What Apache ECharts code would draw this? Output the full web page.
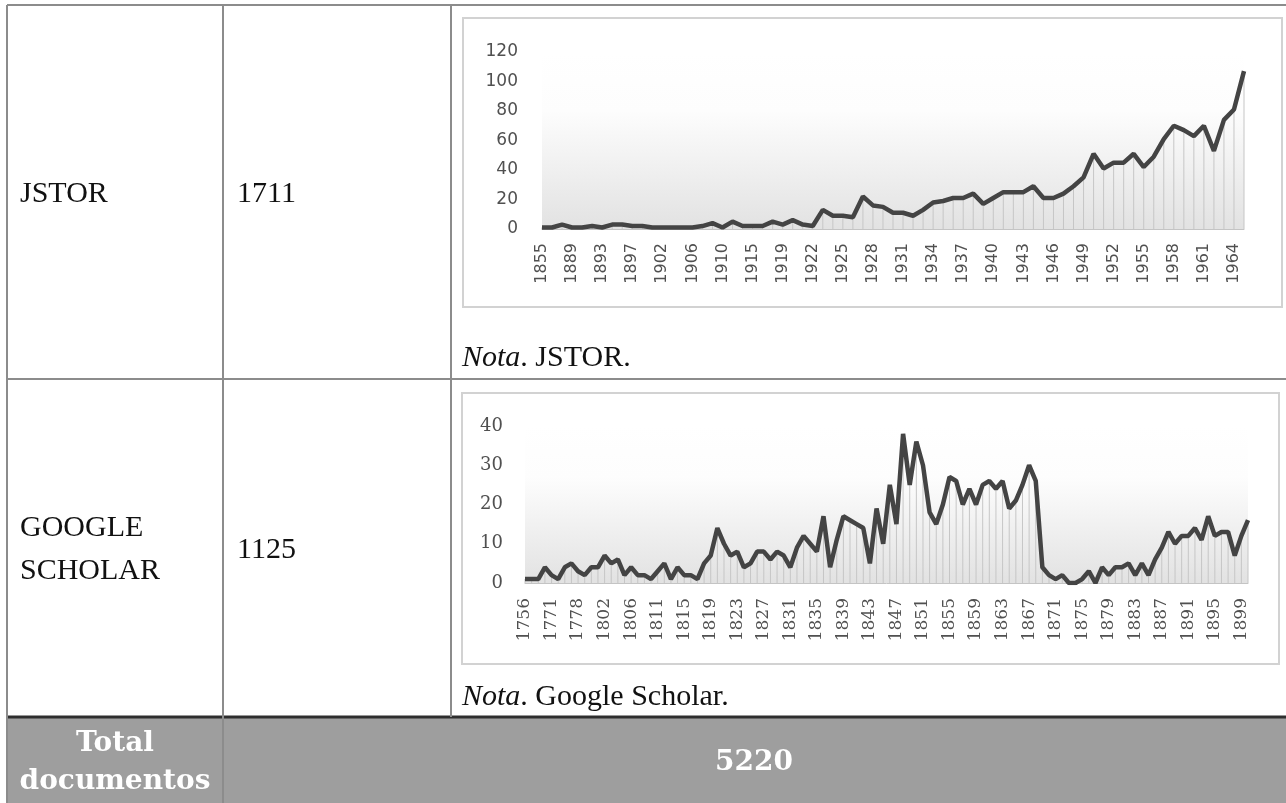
<html>
<head>
    <meta charset="UTF-8"/>
    <title>Documentos por base de datos</title>
    <script src="https://cdn.jsdelivr.net/npm/echarts@6/dist/echarts.min.js"></script>
    <style>
        html, body { margin: 0; padding: 0; background: #fff; }
    </style>
</head>
<body>
<div id="main" style="width:1286px;height:803px;"></div>

<script>
// JSTOR: años y documentos por año
var jstorYears = ['1855','1865','1880','1889','1890','1891','1893','1894','1895','1897','1898','1900',
    '1902','1903','1904','1906','1907','1908','1910','1912','1913','1915','1916','1917','1919','1920','1921',
    '1922','1923','1924','1925','1926','1927','1928','1929','1930','1931','1932','1933','1934','1935','1936',
    '1937','1938','1939','1940','1941','1942','1943','1944','1945','1946','1947','1948','1949','1950','1951',
    '1952','1953','1954','1955','1956','1957','1958','1959','1960','1961','1962','1963','1964','1965'];
var jstorDocs = [1,1,3,1,1,2,1,3,3,2,2,1,1,1,1,1,2,4,1,5,2,2,2,5,3,6,3,2,13,9,9,8,22,16,15,11,11,9,13,18,19,21,
    21,24,17,21,25,25,25,29,21,21,24,29,35,51,41,45,45,51,42,49,61,70,67,63,70,53,74,81,107];

// Google Scholar
var gsYears = ['1756','1760','1765','1769','1771','1773','1775','1776','1778','1780','1790','1800','1802','1803',
    '1804','1805','1806','1807','1808','1810','1811','1812','1813','1814','1815','1816','1817','1818'];
for (var y = 1819; y <= 1900; y++) gsYears.push(String(y));
var gsDocs = [1,1,1,4,2,1,4,5,3,2,4,4,7,5,6,2,4,2,2,1,3,5,1,4,2,2,1,5,7,14,10,7,8,4,5,8,8,6,8,7,4,9,12,10,8,17,
    4,11,17,16,15,14,5,19,10,25,15,38,25,36,30,18,15,20,27,26,20,24,20,25,26,24,26,19,21,25,30,26,4,2,1,2,0,0,1,3,
    0,4,2,4,4,5,2,5,2,6,9,13,10,12,12,14,11,17,12,13,13,7,12,16];

var jstorTicks = [0, 120, 20];
var gsTicks = [0, 40, 10];

var myChart = echarts.init(document.getElementById('main'));

var lineGrey = '#8c8c8c';
var serif = 'Liberation Serif';

function wallGradient() {
    return new echarts.graphic.LinearGradient(0, 0, 0, 1, [
        {offset: 0, color: '#ffffff'},
        {offset: 0.33, color: '#fdfdfd'},
        {offset: 1, color: '#e2e2e2'}
    ]);
}

function xAxisFor(idx, years, every, font, size, margin) {
    return {
        type: 'category', gridIndex: idx, data: years, boundaryGap: false,
        axisLine: {lineStyle: {color: '#c4c4c4', width: 1}},
        axisTick: {show: false},
        axisLabel: {rotate: 90, interval: every, fontFamily: font, fontSize: size, color: '#505050', margin: margin}
    };
}
function yAxisFor(idx, ticks, font, size, margin) {
    return {
        type: 'value', gridIndex: idx, min: ticks[0], max: ticks[1], interval: ticks[2],
        axisLine: {show: false}, axisTick: {show: false}, splitLine: {show: false},
        axisLabel: {fontFamily: font, fontSize: size, color: '#505050', margin: margin}
    };
}

var option = {
    backgroundColor: '#fff',
    animation: false,
    grid: [
        {left: 542, top: 52, width: 702, height: 177, show: true, borderWidth: 0, backgroundColor: wallGradient()},
        {left: 525, top: 426, width: 723, height: 157, show: true, borderWidth: 0, backgroundColor: wallGradient()}
    ],
    xAxis: [
        xAxisFor(0, jstorYears, 2, 'DejaVu Sans', 16, 14),
        xAxisFor(1, gsYears, 3, 'DejaVu Serif', 17, 15)
    ],
    yAxis: [
        yAxisFor(0, jstorTicks, 'DejaVu Sans', 17, 24),
        yAxisFor(1, gsTicks, 'DejaVu Serif', 18, 22)
    ],
    series: [
        {type: 'bar', xAxisIndex: 0, yAxisIndex: 0, data: jstorDocs, barWidth: 1,
            itemStyle: {color: '#c6c6c6'}, silent: true},
        {type: 'line', xAxisIndex: 0, yAxisIndex: 0, data: jstorDocs, showSymbol: false,
            lineStyle: {color: '#444', width: 4.5}, silent: true},
        {type: 'bar', xAxisIndex: 1, yAxisIndex: 1, data: gsDocs, barWidth: 1,
            itemStyle: {color: '#c6c6c6'}, silent: true},
        {type: 'line', xAxisIndex: 1, yAxisIndex: 1, data: gsDocs, showSymbol: false,
            lineStyle: {color: '#444', width: 4.5}, silent: true}
    ],
    graphic: [
        // recuadros de los gráficos
        {type: 'rect', z: -10, shape: {x: 463, y: 18, width: 819, height: 289},
            style: {fill: '#fff', stroke: '#d2d2d2', lineWidth: 2}},
        {type: 'rect', z: -10, shape: {x: 462, y: 393, width: 817, height: 271},
            style: {fill: '#fff', stroke: '#d2d2d2', lineWidth: 2}},
        // fila total
        {type: 'rect', z: -10, shape: {x: 7, y: 718, width: 1279, height: 85}, style: {fill: '#9e9e9e'}},
        // líneas de la tabla
        {type: 'line', shape: {x1: 7, y1: 5, x2: 1286, y2: 5}, style: {stroke: lineGrey, lineWidth: 2}},
        {type: 'line', shape: {x1: 7, y1: 379, x2: 1286, y2: 379}, style: {stroke: lineGrey, lineWidth: 2}},
        {type: 'line', shape: {x1: 7, y1: 717, x2: 1286, y2: 717}, style: {stroke: '#2e2e2e', lineWidth: 3}},
        {type: 'line', shape: {x1: 7, y1: 5, x2: 7, y2: 803}, style: {stroke: lineGrey, lineWidth: 2}},
        {type: 'line', shape: {x1: 223, y1: 5, x2: 223, y2: 803}, style: {stroke: lineGrey, lineWidth: 2}},
        {type: 'line', shape: {x1: 451, y1: 5, x2: 451, y2: 717}, style: {stroke: lineGrey, lineWidth: 2}},
        // textos
        {type: 'text', x: 20, y: 194, style: {text: 'JSTOR', font: '30px ' + serif, fill: '#111', verticalAlign: 'middle'}},
        {type: 'text', x: 237, y: 194, style: {text: '1711', font: '30px ' + serif, fill: '#111', verticalAlign: 'middle'}},
        {type: 'text', x: 20, y: 528, style: {text: 'GOOGLE', font: '30px ' + serif, fill: '#111', verticalAlign: 'middle'}},
        {type: 'text', x: 20, y: 571, style: {text: 'SCHOLAR', font: '30px ' + serif, fill: '#111', verticalAlign: 'middle'}},
        {type: 'text', x: 237, y: 550, style: {text: '1125', font: '30px ' + serif, fill: '#111', verticalAlign: 'middle'}},
        {type: 'text', x: 462, y: 358, style: {
            text: '{i|Nota}. JSTOR.', font: '30px ' + serif, fill: '#111', verticalAlign: 'middle',
            rich: {i: {fontStyle: 'italic', fontFamily: serif, fontSize: 30, fill: '#111'}}}},
        {type: 'text', x: 462, y: 697, style: {
            text: '{i|Nota}. Google Scholar.', font: '30px ' + serif, fill: '#111', verticalAlign: 'middle',
            rich: {i: {fontStyle: 'italic', fontFamily: serif, fontSize: 30, fill: '#111'}}}},
        {type: 'text', x: 115, y: 744, style: {text: 'Total', font: 'bold 28px DejaVu Serif', fill: '#fff',
            align: 'center', verticalAlign: 'middle'}},
        {type: 'text', x: 115, y: 782, style: {text: 'documentos', font: 'bold 28px DejaVu Serif', fill: '#fff',
            align: 'center', verticalAlign: 'middle'}},
        {type: 'text', x: 754, y: 763, style: {text: '5220', font: 'bold 28px DejaVu Serif', fill: '#fff',
            align: 'center', verticalAlign: 'middle'}}
    ]
};
myChart.setOption(option);
</script>
</body>
</html>
